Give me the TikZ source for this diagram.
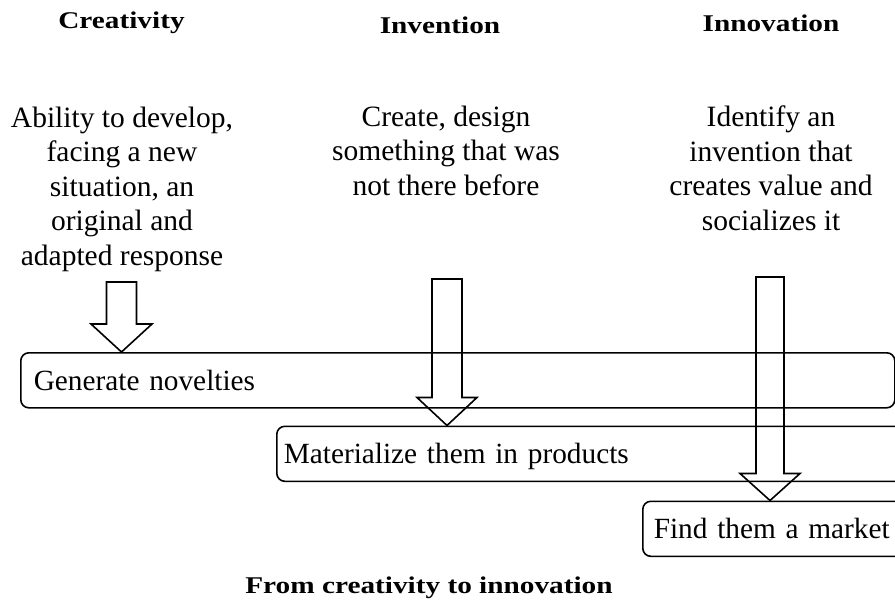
\documentclass[tikz,border=0pt]{standalone}
\usepackage{fontspec}
\setmainfont{Liberation Serif}
\newfontfamily\headfont{Liberation Serif}[FakeStretch=1.22]
\usetikzlibrary{calc}
\begin{document}
\begin{tikzpicture}[x=1pt,y=-1pt,
  title/.style={font=\headfont\bfseries\fontsize{24}{28}\selectfont, inner sep=0pt, anchor=base},
  desc/.style={font=\fontsize{29.5}{34.6}\selectfont, align=center, inner sep=0pt, anchor=north},
  stage/.style={draw, line width=1.6pt, rounded corners=8pt, anchor=north west,
    minimum height=55pt, text height=20.2pt, text depth=0pt, align=left,
    font=\fontsize{29.3}{34}\selectfont},
  blockarrow/.style={draw, line width=1.6pt, line join=miter, miter limit=10}
]
\useasboundingbox (0,0) rectangle (895,605);

% headings
\node[title] (h1) at (121.5,28) {Creativity};
\node[title] (h2) at (440,34) {Invention};
\node[title] (h3) at (771,31) {Innovation};

% descriptions
\node[desc] (d1) at (122,106.5) {Ability to develop,\\facing a new\\situation, an\\original and\\adapted response};
\node[desc] (d2) at (446,105.5) {Create, design\\something that was\\not there before};
\node[desc] (d3) at (771,105.5) {Identify an\\invention that\\creates value and\\socializes it};

% stages
\node[stage, inner xsep=13pt, text width=848pt] (b1) at (20,352) {Generate novelties};
\node[stage, inner xsep=7pt, text width=630pt] (b2) at (276,425.5) {Materialize them in products};
\node[stage, inner xsep=11pt, text width=256pt] (b3) at (642,500.5) {Find them a market};

% arrow tails
\coordinate (c1) at (121.5,282);
\coordinate (c2) at (447,279);
\coordinate (c3) at (770,277);

% block arrows
\draw[blockarrow] (b1.north -| c1) -- ++(-30.5,-28) -- ++(15.5,0)
  |- ([xshift=15pt]c1) |- ($(b1.north -| c1)+(30.5,-28)$) -- cycle;
\draw[blockarrow] (b2.north -| c2) -- ++(-30,-28) -- ++(15,0)
  |- ([xshift=15pt]c2) |- ($(b2.north -| c2)+(30,-28)$) -- cycle;
\draw[blockarrow] (b3.north -| c3) -- ++(-30,-27) -- ++(16,0)
  |- ([xshift=14pt]c3) |- ($(b3.north -| c3)+(30,-27)$) -- cycle;

% caption
\node[title] (cap) at (429,593) {From creativity to innovation};
\end{tikzpicture}
\end{document}
